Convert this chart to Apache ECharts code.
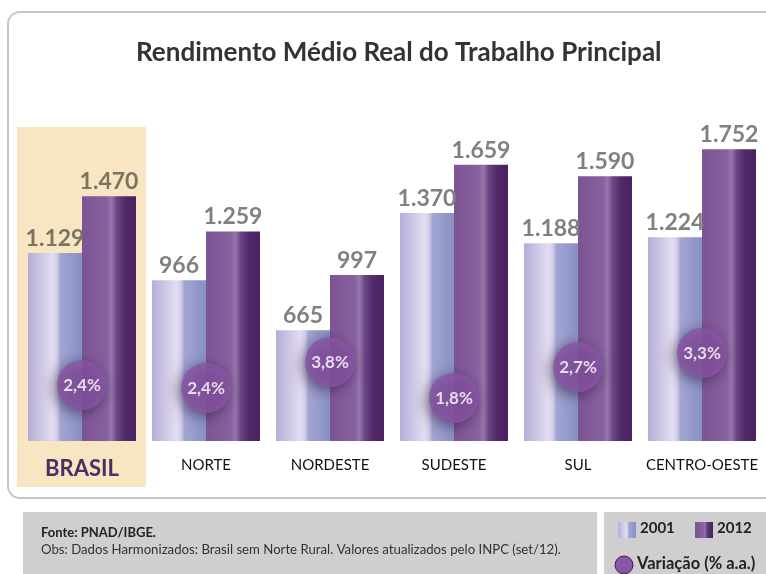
<!DOCTYPE html>
<html><head><meta charset="utf-8">
<script src="https://cdn.jsdelivr.net/npm/echarts@6/dist/echarts.min.js"></script>
<style>html,body{margin:0;padding:0;background:#fff;}#c{width:766px;height:574px;}</style>
</head><body><div id="c"></div>
<script>
var categories = ['BRASIL', 'NORTE', 'NORDESTE', 'SUDESTE', 'SUL', 'CENTRO-OESTE'];
var values2001 = [1129, 966, 665, 1370, 1188, 1224];
var values2012 = [1470, 1259, 997, 1659, 1590, 1752];
var variation = ['2,4%', '2,4%', '3,8%', '1,8%', '2,7%', '3,3%'];
var bubbleLevels = [336, 318, 474, 258, 444, 528];
var seriesNames = ['2001', '2012'];

var FONT = 'Lato, "Open Sans", sans-serif';
function fmt(v) { return v >= 1000 ? String(v).replace(/(\d)(\d{3})$/, '$1.$2') : String(v); }
var grad2001 = {type:'linear',x:0,y:0,x2:1,y2:0,colorStops:[
  {offset:0,color:'#b6add7'},{offset:0.45,color:'#e2ddf0'},{offset:0.54,color:'#d0cce8'},
  {offset:0.6,color:'#a2a5d2'},{offset:1,color:'#8790c4'}]};
var grad2012 = {type:'linear',x:0,y:0,x2:1,y2:0,colorStops:[
  {offset:0,color:'#7c5494'},{offset:0.45,color:'#87609e'},{offset:0.55,color:'#9577ab'},
  {offset:0.64,color:'#6b4684'},{offset:0.8,color:'#52296b'},{offset:1,color:'#4a2060'}]};

function barData(arr) {
  return arr.map(function (v, i) {
    return { value: v, label: { color: i === 0 ? '#7a7462' : '#808080' } };
  });
}
var barLabel = { show: true, position: 'top', distance: 3, fontFamily: FONT, fontWeight: 'bold',
  fontSize: 23, formatter: function (p) { return fmt(p.value); } };

var chart = echarts.init(document.getElementById('c'));
chart.setOption({
  animation: false,
  backgroundColor: '#fff',
  title: { text: 'Rendimento Médio Real do Trabalho Principal', left: 131, top: 35,
    textStyle: { fontFamily: FONT, fontWeight: 'bold', fontSize: 26, color: '#333' } },
  grid: { left: 20, right: 2, top: 108, bottom: 133 },
  xAxis: { type: 'category', data: categories,
    axisLine: { show: false }, axisTick: { show: false },
    axisLabel: { interval: 0, margin: 17, fontFamily: FONT, fontSize: 15, color: '#111',
      formatter: function (v, i) { return i === 0 ? '{b|' + v + '}' : v; },
      rich: { b: { fontFamily: FONT, fontWeight: 'bold', fontSize: 22, color: '#4b2e63' } } } },
  yAxis: { type: 'value', min: 0, max: 2000, show: false, splitLine: { show: false } },
  series: [
    { name: seriesNames[0], type: 'bar', data: barData(values2001), barWidth: 54, barGap: '0%',
      itemStyle: { color: grad2001 }, label: barLabel, z: 2 },
    { name: seriesNames[1], type: 'bar', data: barData(values2012), barWidth: 54,
      itemStyle: { color: grad2012 }, label: barLabel, z: 2 },
    { name: 'Variação', type: 'scatter', data: bubbleLevels, symbolSize: 50, z: 5,
      itemStyle: { color: '#8a55a5', shadowBlur: 14, shadowColor: 'rgba(20,0,30,0.6)', shadowOffsetX: -3, shadowOffsetY: 3 },
      label: { show: true, position: 'inside', fontFamily: FONT, fontWeight: 'bold', fontSize: 17, color: '#fff',
        formatter: function (p) { return variation[p.dataIndex]; } } }
  ],
  graphic: [
    { type: 'rect', z: -10, shape: { x: 8, y: 12, width: 790, height: 486, r: 12 },
      style: { fill: 'none', stroke: '#c8c8c8', lineWidth: 2 } },
    { type: 'rect', z: -5, shape: { x: 17, y: 127, width: 129, height: 360 }, style: { fill: '#f8e6c2' } },
    { type: 'rect', z: -5, shape: { x: 23, y: 512, width: 574, height: 62 }, style: { fill: '#cfcfcf' } },
    { type: 'rect', z: -5, shape: { x: 604, y: 512, width: 162, height: 62 }, style: { fill: '#cfcfcf' } },
    { type: 'text', left: 41, top: 526, style: { text: 'Fonte: PNAD/IBGE.', fontFamily: FONT, fontWeight: 'bold', fontSize: 13, fill: '#222' } },
    { type: 'text', left: 41, top: 543, style: { text: 'Obs: Dados Harmonizados: Brasil sem Norte Rural. Valores atualizados pelo INPC (set/12).', fontFamily: FONT, fontSize: 13.2, fill: '#333' } },
    { type: 'rect', shape: { x: 618, y: 522, width: 18, height: 16 }, style: { fill: grad2001 } },
    { type: 'text', left: 640, top: 521, style: { text: seriesNames[0], fontFamily: FONT, fontWeight: 'bold', fontSize: 15, fill: '#222' } },
    { type: 'rect', shape: { x: 695, y: 522, width: 18, height: 16 }, style: { fill: grad2012 } },
    { type: 'text', left: 717, top: 521, style: { text: seriesNames[1], fontFamily: FONT, fontWeight: 'bold', fontSize: 15, fill: '#222' } },
    { type: 'circle', shape: { cx: 624, cy: 565, r: 9 }, style: { fill: '#8a55a5', stroke: '#3a2048', lineWidth: 1 } },
    { type: 'text', left: 637, top: 555, style: { text: 'Variação (% a.a.)', fontFamily: FONT, fontWeight: 'bold', fontSize: 16.5, fill: '#222' } }
  ]
});
</script></body></html>
